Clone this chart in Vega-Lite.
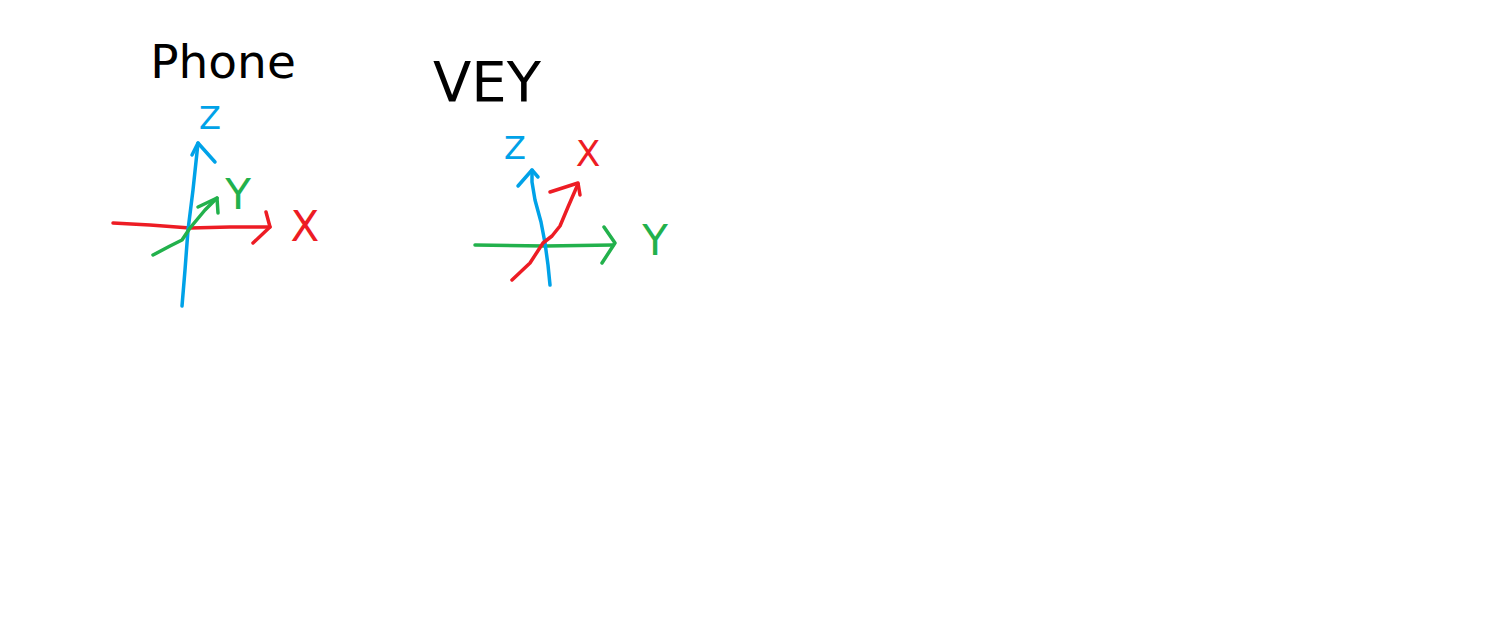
{
  "$schema": "https://vega.github.io/schema/vega-lite/v6.json",
  "description": "Phone vs VEY axis orientation sketch",
  "width": 1498,
  "height": 630,
  "padding": 0,
  "autosize": {"type": "fit", "contains": "padding"},
  "background": "white",
  "datasets": {
    "strokes": [
      {"stroke": "p_x_axis", "axis": "x", "order": 1, "x": 113, "y": 223},
      {"stroke": "p_x_axis", "axis": "x", "order": 2, "x": 150, "y": 225},
      {"stroke": "p_x_axis", "axis": "x", "order": 3, "x": 190, "y": 228},
      {"stroke": "p_x_axis", "axis": "x", "order": 4, "x": 230, "y": 227},
      {"stroke": "p_x_axis", "axis": "x", "order": 5, "x": 270, "y": 227},
      {"stroke": "p_x_head", "axis": "x", "order": 1, "x": 266, "y": 212},
      {"stroke": "p_x_head", "axis": "x", "order": 2, "x": 270, "y": 227},
      {"stroke": "p_x_head", "axis": "x", "order": 3, "x": 253, "y": 243},
      {"stroke": "p_z_axis", "axis": "z", "order": 1, "x": 182, "y": 306},
      {"stroke": "p_z_axis", "axis": "z", "order": 2, "x": 185, "y": 270},
      {"stroke": "p_z_axis", "axis": "z", "order": 3, "x": 188, "y": 230},
      {"stroke": "p_z_axis", "axis": "z", "order": 4, "x": 193, "y": 190},
      {"stroke": "p_z_axis", "axis": "z", "order": 5, "x": 198, "y": 143},
      {"stroke": "p_z_head", "axis": "z", "order": 1, "x": 192, "y": 155},
      {"stroke": "p_z_head", "axis": "z", "order": 2, "x": 198, "y": 143},
      {"stroke": "p_z_head", "axis": "z", "order": 3, "x": 215, "y": 162},
      {"stroke": "p_y_axis", "axis": "y", "order": 1, "x": 153, "y": 255},
      {"stroke": "p_y_axis", "axis": "y", "order": 2, "x": 170, "y": 246},
      {"stroke": "p_y_axis", "axis": "y", "order": 3, "x": 182, "y": 240},
      {"stroke": "p_y_axis", "axis": "y", "order": 4, "x": 190, "y": 228},
      {"stroke": "p_y_axis", "axis": "y", "order": 5, "x": 205, "y": 210},
      {"stroke": "p_y_axis", "axis": "y", "order": 6, "x": 217, "y": 198},
      {"stroke": "p_y_head", "axis": "y", "order": 1, "x": 198, "y": 207},
      {"stroke": "p_y_head", "axis": "y", "order": 2, "x": 217, "y": 198},
      {"stroke": "p_y_head", "axis": "y", "order": 3, "x": 218, "y": 213},
      {"stroke": "v_y_axis", "axis": "y", "order": 1, "x": 475, "y": 245},
      {"stroke": "v_y_axis", "axis": "y", "order": 2, "x": 545, "y": 246},
      {"stroke": "v_y_axis", "axis": "y", "order": 3, "x": 613, "y": 245},
      {"stroke": "v_y_head", "axis": "y", "order": 1, "x": 604, "y": 227},
      {"stroke": "v_y_head", "axis": "y", "order": 2, "x": 615, "y": 243},
      {"stroke": "v_y_head", "axis": "y", "order": 3, "x": 602, "y": 263},
      {"stroke": "v_z_axis", "axis": "z", "order": 1, "x": 550, "y": 285},
      {"stroke": "v_z_axis", "axis": "z", "order": 2, "x": 548, "y": 265},
      {"stroke": "v_z_axis", "axis": "z", "order": 3, "x": 545, "y": 243},
      {"stroke": "v_z_axis", "axis": "z", "order": 4, "x": 541, "y": 222},
      {"stroke": "v_z_axis", "axis": "z", "order": 5, "x": 535, "y": 200},
      {"stroke": "v_z_axis", "axis": "z", "order": 6, "x": 532, "y": 182},
      {"stroke": "v_z_axis", "axis": "z", "order": 7, "x": 532, "y": 170},
      {"stroke": "v_z_head", "axis": "z", "order": 1, "x": 518, "y": 186},
      {"stroke": "v_z_head", "axis": "z", "order": 2, "x": 532, "y": 170},
      {"stroke": "v_z_head", "axis": "z", "order": 3, "x": 538, "y": 177},
      {"stroke": "v_x_axis", "axis": "x", "order": 1, "x": 512, "y": 280},
      {"stroke": "v_x_axis", "axis": "x", "order": 2, "x": 530, "y": 263},
      {"stroke": "v_x_axis", "axis": "x", "order": 3, "x": 543, "y": 243},
      {"stroke": "v_x_axis", "axis": "x", "order": 4, "x": 552, "y": 236},
      {"stroke": "v_x_axis", "axis": "x", "order": 5, "x": 560, "y": 226},
      {"stroke": "v_x_axis", "axis": "x", "order": 6, "x": 568, "y": 207},
      {"stroke": "v_x_axis", "axis": "x", "order": 7, "x": 578, "y": 184},
      {"stroke": "v_x_head", "axis": "x", "order": 1, "x": 550, "y": 192},
      {"stroke": "v_x_head", "axis": "x", "order": 2, "x": 578, "y": 183},
      {"stroke": "v_x_head", "axis": "x", "order": 3, "x": 580, "y": 195}
    ],
    "titles": [
      {"label": "Phone", "kind": "phone", "x": 223, "y": 64},
      {"label": "VEY", "kind": "vey", "x": 487, "y": 84}
    ],
    "labels": [
      {"label": "X", "axis": "x", "kind": "big", "x": 305, "y": 228},
      {"label": "Y", "axis": "y", "kind": "big", "x": 238, "y": 196},
      {"label": "Z", "axis": "z", "kind": "small", "x": 210, "y": 119},
      {"label": "Z", "axis": "z", "kind": "small", "x": 515, "y": 149},
      {"label": "X", "axis": "x", "kind": "mid", "x": 588, "y": 155},
      {"label": "Y", "axis": "y", "kind": "big", "x": 655, "y": 242}
    ]
  },
  "encoding": {
    "x": {"field": "x", "type": "quantitative", "scale": {"domain": [0, 1498], "nice": false, "zero": false}, "axis": null},
    "y": {"field": "y", "type": "quantitative", "scale": {"domain": [0, 630], "nice": false, "zero": false, "reverse": true}, "axis": null}
  },
  "layer": [
    {
      "data": {"name": "strokes"},
      "mark": {"type": "line", "strokeWidth": 3.5, "strokeCap": "round", "strokeJoin": "round", "interpolate": "linear"},
      "encoding": {
        "detail": {"field": "stroke", "type": "nominal"},
        "order": {"field": "order", "type": "quantitative"},
        "color": {"field": "axis", "type": "nominal", "scale": {"domain": ["x", "y", "z"], "range": ["#ed1c24", "#22b14c", "#00a2e8"]}, "legend": null}
      }
    },
    {
      "data": {"name": "titles"},
      "transform": [{"filter": "datum.kind == 'phone'"}],
      "mark": {"type": "text", "font": "DejaVu Sans", "fontSize": 47, "color": "black", "align": "center", "baseline": "middle"},
      "encoding": {"text": {"field": "label"}}
    },
    {
      "data": {"name": "titles"},
      "transform": [{"filter": "datum.kind == 'vey'"}],
      "mark": {"type": "text", "font": "DejaVu Sans", "fontSize": 56, "color": "black", "align": "center", "baseline": "middle"},
      "encoding": {"text": {"field": "label"}}
    },
    {
      "data": {"name": "labels"},
      "transform": [{"filter": "datum.kind == 'big'"}],
      "mark": {"type": "text", "font": "DejaVu Sans", "fontSize": 42, "align": "center", "baseline": "middle"},
      "encoding": {
        "text": {"field": "label"},
        "color": {"field": "axis", "type": "nominal", "legend": null}
      }
    },
    {
      "data": {"name": "labels"},
      "transform": [{"filter": "datum.kind == 'mid'"}],
      "mark": {"type": "text", "font": "DejaVu Sans", "fontSize": 36, "align": "center", "baseline": "middle"},
      "encoding": {
        "text": {"field": "label"},
        "color": {"field": "axis", "type": "nominal", "legend": null}
      }
    },
    {
      "data": {"name": "labels"},
      "transform": [{"filter": "datum.kind == 'small'"}],
      "mark": {"type": "text", "font": "DejaVu Sans", "fontSize": 32, "align": "center", "baseline": "middle"},
      "encoding": {
        "text": {"field": "label"},
        "color": {"field": "axis", "type": "nominal", "legend": null}
      }
    }
  ],
  "config": {"view": {"stroke": null}}
}
